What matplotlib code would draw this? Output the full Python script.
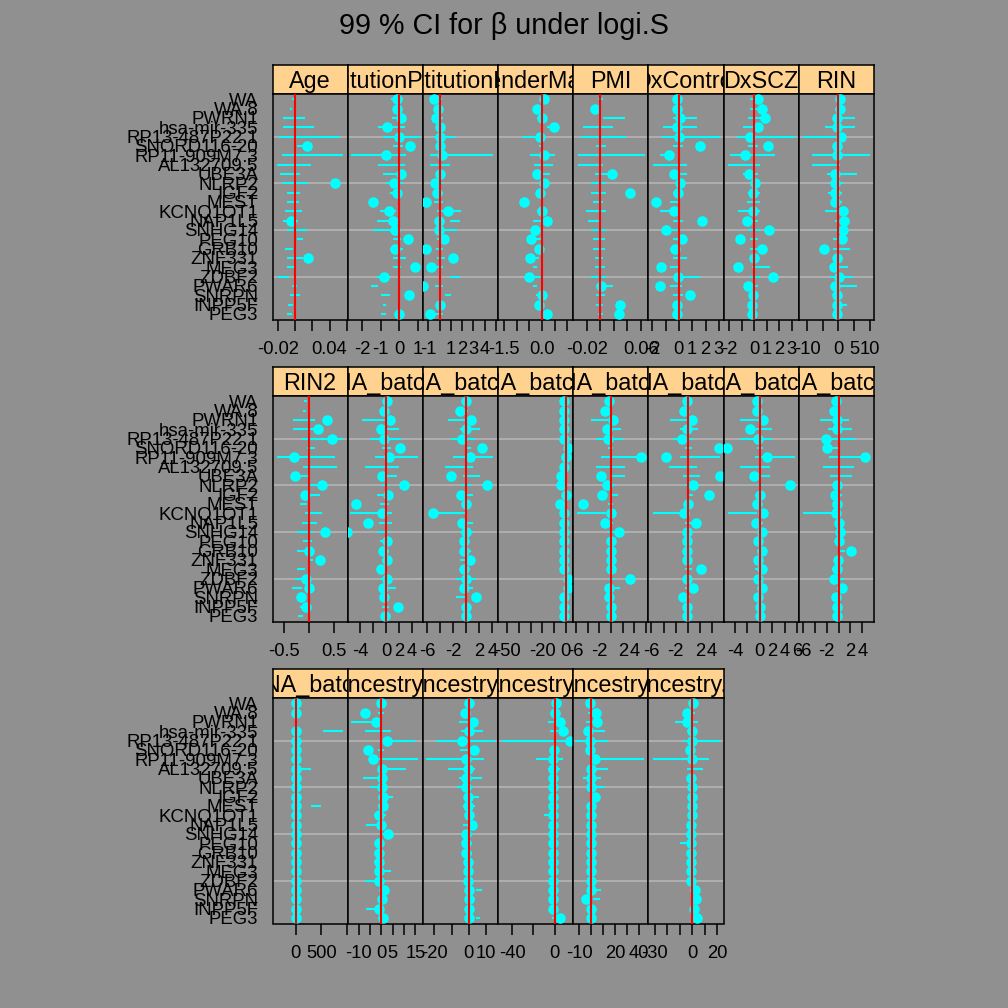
import numpy as np
import matplotlib
matplotlib.use('Agg')
import matplotlib.pyplot as plt

plt.rcParams['font.family'] = ['Liberation Sans', 'DejaVu Sans']

N = np.nan

# genes, top to bottom
genes = ['WA', 'WA.8', 'PWRN1', 'hsa-mir-335', 'RP13-487P22.1', 'SNORD116-20',
         'RP11-909M7.3', 'AL132709.5', 'UBE3A', 'NLRP2', 'IGF2', 'MEST',
         'KCNQ1OT1', 'NAP1L5', 'SNHG14', 'PEG10', 'GRB10', 'ZNF331', 'MEG3',
         'ZDBF2', 'PWAR6', 'SNRPN', 'INPP5F', 'PEG3']

# ---- row 1 ----
age_est = [N, N, N, N, N, 0.0135, N, N, N, 0.046, N, N, N, -0.005, N, N, N, 0.0146, N, N, N, N, N, N]
age_lo = [-0.004, -0.006, -0.014, -0.014, -0.019, 0.002, -0.015, -0.021, -0.017, -0.015, -0.0096, -0.0096,
          -0.0115, -0.014, -0.0096, 0.002, -0.0115, -0.0096, -0.0096, -0.02, -0.004, -0.006, -0.008, -0.0096]
age_hi = [-0.001, -0.003, 0.0115, 0.022, 0.052, 0.010, 0.056, 0.019, 0.006, 0.015, 0.0058, 0.005,
          0.0077, 0.004, 0.0135, 0.0096, -0.002, 0.0096, -0.001, -0.0065, 0.002, 0.006, -0.002, -0.003]

penn_est = [-0.12, -0.12, 0.1, -0.66, 0.0, 0.59, -0.73, N, 0.1, -0.27, -0.1, -1.41,
            -0.57, -0.36, -0.21, 0.46, -0.21, N, 0.86, -0.82, N, 0.55, N, 0.0]
penn_lo = [-0.45, -0.3, -0.4, -1.14, -0.88, -0.34, -2.57, -1.14, -0.87, -0.7, -0.5, -1.6,
           -1.05, -1.2, -1.4, -0.34, -0.5, -0.34, -0.34, -1.2, -1.5, -0.96, -0.87, -1.0]
penn_hi = [0.2, 0.1, 0.3, 0.29, 1.09, 0.2, 0.38, 0.29, 0.37, 0.2, 0.1, -1.2,
           -0.16, -0.34, 0.02, 0.1, 0.2, 0.375, 0.1, -0.52, -1.14, -0.52, -0.7, -0.7]

pitt_est = [-0.5, -0.15, -0.3, 0.0, 0.0, 0.0, 0.2, N, 0.0, -0.45, -0.2, -1.19,
            0.74, -0.1, -0.1, 0.42, -1.19, 1.19, -0.74, N, -1.49, N, 0.0, -0.9]
pitt_lo = [-0.2, -0.1, -0.4, -0.3, -0.5, -0.2, -0.9, -0.9, -0.3, -0.4, -0.3, -0.5,
           -0.2, 0.9, -0.3, -0.2, -0.3, -0.2, -0.4, 0.9, -0.4, 0.45, -0.3, -0.4]
pitt_hi = [0.2, 0.2, 0.3, 0.4, 1.34, 0.3, 4.76, 0.9, 0.4, 0.3, 0.3, 0.3,
           1.93, 1.8, 1.5, 0.5, 0.3, 0.5, 0.3, 1.8, 0.3, 1.04, 0.3, 0.3]

male_est = [0.085, -0.21, 0.0, 0.47, -0.08, N, 0.1, N, -0.2, 0.1, -0.09, -0.72,
            0.0, 0.2, -0.26, -0.44, -0.1, -0.45, N, -0.49, N, 0.0, -0.1, 0.22]
male_lo = [-0.05, -0.25, -0.18, 0.22, -0.8, -0.11, -0.47, -0.31, -0.18, -0.11, -0.21, -0.7,
           -0.18, -0.37, -0.44, -0.31, -0.24, -0.31, -0.37, -0.31, -0.34, -0.24, -0.18, -0.05]
male_hi = [0.085, -0.15, 0.15, 0.41, 0.15, 0.02, 0.51, 0.45, 0.31, 0.085, -0.05, -0.5,
           0.085, -0.05, -0.11, -0.05, -0.05, -0.11, -0.21, -0.05, -0.18, -0.05, -0.05, 0.12]

pmi_est = [N, -0.0084, N, N, N, N, N, N, 0.0168, N, 0.044, N,
           N, N, N, N, N, N, N, N, 0.001, N, 0.029, 0.027]
pmi_lo = [-0.0035, -0.013, 0.004, -0.026, -0.028, -0.006, -0.033, -0.033, -0.0084, -0.013, -0.013, -0.011,
          -0.021, -0.018, -0.013, -0.011, -0.011, -0.0084, -0.0084, -0.013, -0.006, -0.006, -0.006, -0.0035]
pmi_hi = [0.004, -0.0035, 0.036, 0.019, 0.0385, 0.009, 0.066, 0.004, 0.014, 0.009, 0.009, 0.004,
          0.009, -0.001, 0.009, 0.0064, 0.0064, 0.004, 0.0064, 0.009, 0.019, 0.0064, 0.004, 0.004]

ctrl_est = [-0.12, -0.12, 0.12, -0.12, 0.0, 1.6, -0.75, N, -0.38, 0.08, -0.05, -1.7,
            -0.35, 1.7, -0.93, 0.2, -0.3, N, -1.35, -0.05, -1.38, 0.83, -0.12, -0.12]
ctrl_lo = [-0.3, -0.3, -0.43, -1.18, -1.3, -0.43, -1.43, -1.93, -0.68, -0.3, -0.43, -0.68,
           -1.43, -0.43, -0.68, -0.43, -0.68, -0.43, -0.68, -0.43, -0.68, -0.43, -0.3, -0.3]
ctrl_hi = [0.2, 0.2, 1.33, 1.33, 3.08, 0.33, -0.43, 0.58, 0.58, 0.45, 0.33, 0.08,
           0.08, 0.33, 0.08, 0.33, 0.08, 0.58, 0.08, 1.58, 0.2, 0.33, 0.2, 0.2]

scz_est = [0.32, 0.59, 0.9, 0.32, -0.35, 1.07, -0.75, N, -0.4, 0.05, -0.08, N,
           -0.08, -0.61, 1.2, -1.1, 0.59, -0.03, -1.28, 1.47, -0.5, -0.08, -0.16, -0.16]
scz_lo = [-0.35, -0.35, -0.48, -0.88, -1.41, -0.48, -1.95, -2.08, -0.88, -0.35, -0.48, -0.61,
          -1.28, -0.48, -0.48, -0.35, -0.35, -0.35, -0.21, -0.35, -0.48, -0.35, -0.35, -0.35]
scz_hi = [0.45, 0.45, 1.25, 0.72, 3.25, 0.32, 1.65, 0.45, 0.32, 0.45, 0.45, 0.45,
          0.45, 0.32, 0.45, 0.32, 0.45, 0.45, 1.25, 0.45, 0.32, 0.32, 0.19, 0.19]

rin_est = [0.5, 0.5, -0.5, -0.5, 0.75, -0.5, -0.5, N, -1.0, -1.2, -1.2, -1.0,
           1.6, 1.8, 1.6, 1.1, -4.6, -0.3, -1.4, 0.3, -1.0, -0.5, -0.3, -0.3]
rin_lo = [-1.07, -1.07, -1.6, -4.27, -11.2, -1.6, -8.55, -8.55, -3.74, -2.14, -3.2, -2.14,
          -4.27, -1.07, -1.07, -1.6, -1.6, -1.6, -2.67, -2.67, -2.14, -1.6, -1.6, -1.6]
rin_hi = [1.6, 1.6, 5.34, 5.34, 1.6, 1.07, 10.15, 0.53, 5.88, 1.6, 1.07, 1.07,
          1.6, 2.67, 2.14, 2.14, 3.74, 1.6, 3.2, 4.8, 5.88, 1.07, 2.67, 1.07]

# ---- row 2 ----
rin2_est = [N, N, 0.36, 0.17, 0.46, N, -0.31, N, -0.29, 0.25, -0.09, N,
            N, N, 0.31, N, 0.0, 0.21, N, -0.07, 0.0, -0.17, -0.07, N]
rin2_lo = [-0.11, -0.12, -0.32, -0.32, -0.15, -0.05, -0.65, -0.12, -0.32, -0.05, -0.12, -0.19,
           -0.09, -0.15, -0.25, -0.12, -0.25, -0.02, -0.25, -0.29, -0.35, -0.25, -0.19, -0.22]
rin2_hi = [-0.05, -0.07, 0.11, 0.18, 0.68, 0.11, 0.51, 0.55, -0.02, 0.15, 0.21, -0.05,
           0.25, 0.15, 0.08, 0.05, -0.02, 0.08, -0.09, 0.01, -0.15, -0.09, -0.05, -0.12]

bB_est = [0.2, -0.37, 0.58, -0.73, -0.37, 2.1, 0.42, N, -0.63, 2.68, 0.3, -4.7,
          -0.63, -2.83, -6.1, 0.2, -0.47, 0.2, -0.73, 0.2, -0.47, -0.3, 1.84, -0.2]
bB_lo = [-0.37, -0.63, -3.78, -1.15, -2.47, -0.63, -1.68, -3.25, -0.1, -0.63, -1.42, -0.89,
         -5.6, -1.15, -1.42, -0.89, -0.89, -0.63, -1.15, -0.89, -0.63, -0.89, -0.63, -0.63]
bB_hi = [0.42, 0.16, -0.1, 2.0, 2.26, 0.68, 4.88, 2.0, 1.73, 0.42, 0.42, 0.42,
         0.94, 0.94, 0.42, 0.42, 0.42, 0.68, 0.16, 0.42, 1.47, 0.42, 0.42, 0.16]

bC_est = [0.0, -0.92, 0.77, -0.1, -0.6, 2.46, 0.6, N, -2.3, 3.18, -0.77, 0.0,
          -5.2, -0.72, 0.0, -0.41, -0.41, 0.6, -0.41, 0.0, -0.41, 1.54, 0.0, 0.0]
bC_lo = [-0.51, -1.03, -2.8, -1.03, -2.3, -0.25, -2.05, -3.33, -0.51, -0.77, -1.03, -0.51,
         -5.0, 0.26, -1.03, -0.77, -1.03, -1.03, -0.77, -1.54, -0.51, -1.54, -0.51, -0.51]
bC_hi = [0.51, 0.26, 1.54, 2.05, 1.28, 0.77, 4.1, 1.03, 2.05, 0.77, 1.03, 0.77,
         0.0, 1.03, 1.03, 0.51, 0.77, 0.77, 0.51, 1.54, 1.03, 0.0, 0.51, 0.51]

bD_est = [-1.7, -1.7, -1.7, -1.7, -1.7, 2.0, 0.0, -1.7, -3.7, -3.7, 0.6, -4.6,
          -1.7, -1.7, -1.7, -1.7, -1.7, -1.7, -1.7, 2.0, 2.0, -1.7, -1.7, -1.7]
bD_lo = [-3, -3, -3, -3, -3, -1, -4, -4, -5, -5, -2, -6, -5, -3, -3, -3, -3, -3, -3, -1, -1, -3, -3, -3]
bD_hi = [1, 1, 1, 1, 1, 3, 2, 1, -1, 0, 2, -3, 1, 1, 1, 1, 1, 1, 1, 3, 3, 1, 1, 1]

bE_est = [-0.4, -1.08, 0.34, -0.63, -0.5, N, 5.07, N, -1.65, -0.68, -1.54, -4.8,
          0.0, -0.97, 1.31, 0.0, 0.0, 0.0, 0.0, 3.19, -0.34, -0.34, 0.0, 0.0]
bE_lo = [-0.51, -1.37, -3.36, -0.8, -2.5, -0.51, -1.65, -2.62, -0.23, -0.51, -0.23, -0.51,
         -5.8, -0.8, -0.51, -0.51, -0.51, -0.51, -0.51, -0.51, 0.34, -0.51, -0.51, -0.51]
bE_hi = [0.34, -0.23, 0.91, 1.77, 2.05, 0.34, 4.9, 2.34, 2.34, 0.63, 1.2, 0.34,
         -0.8, 0.34, 0.63, 0.63, 0.63, 0.34, 0.63, 0.63, 1.48, 0.34, 0.34, 0.34]

bF_est = [-0.17, -0.55, 0.78, -0.05, -0.9, 5.1, -3.67, N, 5.4, 0.94, 3.6, 0.1,
          -0.67, 1.39, -0.05, -0.17, -0.17, -0.17, 2.28, -0.17, 0.94, -0.72, -0.17, -0.17]
bF_lo = [-0.44, -1.0, -2.94, -1.28, -2.39, -0.44, -1.28, -3.06, -0.72, -0.44, -0.17, -0.44,
         -5.72, -0.44, -0.44, -0.44, -0.44, -0.44, -0.44, -0.44, -0.44, -0.72, -0.44, -0.44]
bF_hi = [0.39, 0.11, 1.22, 1.78, 0.94, 0.67, 5.39, 1.5, 2.06, 0.67, 0.94, 0.67,
         -0.17, 0.94, 0.67, 0.39, 0.39, 0.67, 0.67, 0.39, 0.67, 0.39, 0.39, 0.39]

bG_est = [-0.53, -0.53, 0.43, -1.5, -0.27, -5.2, 1.17, N, -0.96, 4.8, 0.0, -0.43,
          0.43, -0.64, 0.27, -0.27, 0.27, -0.27, 0.27, -0.27, 0.27, -0.27, 0.0, 0.0]
bG_lo = [-0.53, -0.8, -3.2, -1.07, -3.2, -0.53, -0.8, -3.2, 0.0, -0.53, -0.8, -0.8,
         -5.07, -0.8, -0.53, -0.53, -0.53, -0.53, -0.8, -0.53, -0.53, -0.53, -0.53, -0.53]
bG_hi = [0.27, 0.27, 0.8, 1.87, 1.87, 0.53, 5.6, 1.6, 1.6, 0.53, 0.8, 0.53,
         -0.53, 0.53, 0.53, 0.53, 0.53, 0.53, 0.27, 0.53, 0.53, 0.53, 0.53, 0.53]

bH_est = [-0.4, -0.85, -0.3, -0.3, -2.1, -2.0, 4.39, N, N, -0.3, -0.57, -0.3,
          -0.4, 0.0, 0.28, 0.0, 2.17, -0.17, -0.3, -0.85, 0.57, -0.4, -0.3, -0.3]
bH_lo = [-0.57, -1.14, -3.13, -1.71, -2.0, -1.71, -1.54, -2.56, -1.42, -0.85, -1.14, -0.85,
         -5.98, -0.57, -0.57, -0.57, 0.0, -0.85, -1.14, -1.14, 0.0, -0.85, -0.85, -0.85]
bH_hi = [0.28, 0.0, 1.71, 2.28, 2.85, 0.28, 4.27, 2.56, 2.28, 0.57, 0.57, 0.57,
         -0.57, 0.85, 1.14, 0.57, 1.14, 0.57, 0.28, 0.85, 1.14, 0.28, 0.57, 0.57]

# ---- row 3 ----
bI_est = [0, 0, N, 0, 0, 0, 0, 0, 0, 0, 0, 0, 0, 0, 0, 0, 0, 0, 0, 0, 0, 0, 0, 0]
bI_lo = [-30, -30, N, 525, -30, -30, -30, 77, -30, -30, -30, 300,
         -30, -30, -30, -30, -30, -30, -30, -30, -30, -30, -30, -30]
bI_hi = [30, 30, N, 910, 30, 30, 30, 300, 30, 30, 30, 490,
         30, 30, 30, 30, 30, 30, 30, 30, 30, 30, 30, 30]

an1_est = [-0.4, -7.2, -2.4, N, 2.4, -6.0, -3.8, 0.3, 0.3, 0.3, 0.6, 0.6,
           -0.9, -0.4, 2.9, -0.9, -0.9, -0.9, -0.9, -0.9, 1.3, 0.3, -0.9, 0.6]
an1_lo = [-0.9, -1.6, -13.4, -7.5, 0.6, -1.6, -0.9, 1.3, -8.3, -5.3, -0.9, -1.6,
          -3.1, -6.8, -0.9, -2.4, -2.4, -3.1, -2.4, -7.5, 0.6, -1.6, -6.8, -1.6]
an1_hi = [1.3, 1.3, -0.9, 4.3, 14.6, 1.3, 16.1, 10.9, 2.1, 2.1, 5.0, 2.1,
          2.1, 2.1, 2.1, 1.3, 1.3, 0.6, 4.3, 2.1, 3.2, 1.3, 0.6, 1.3]

an2_est = [0.2, -2.3, 2.5, 0.2, -3.7, 2.9, -1.7, -0.2, -1.4, -1.4, -0.4, -0.4,
           0.2, 1.9, -1.4, -1.7, -1.4, -0.4, -0.4, -0.4, 0.2, 0.2, 0.2, 0.2]
an2_lo = [-1.4, -3.3, -5.6, -4.3, -18.8, -4.8, -24.6, -12.0, -5.6, -6.8, -1.4, -3.3,
          -1.7, -3.3, -2.3, -3.3, -2.3, -1.7, -2.3, -1.7, 4.1, 0.2, -1.7, 4.1]
an2_hi = [1.6, 0.6, 2.5, 8.3, 15.1, 0.6, 8.7, 3.5, 7.9, 2.5, 6.0, 3.5,
          2.5, 4.8, 2.5, 1.6, 1.6, 2.5, 2.5, 2.5, 7.9, 3.5, 2.1, 6.8]

an3_est = [0.9, 0.0, 4.7, 7.9, 14.8, -0.9, -1.6, -1.6, -1.6, -1.6, -1.6, -1.6,
           -1.6, -1.6, -1.6, -1.6, -1.6, -1.6, -1.6, -1.6, -1.6, -1.6, -1.6, 5.3]
an3_lo = [-1.6, -2.2, -6.3, -4.7, -49.4, -3.1, -17.9, -6.3, -3.1, -3.1, -3.1, -3.1,
          -10.4, -3.1, -3.1, -3.1, -3.1, -3.1, -3.1, -3.1, -3.1, -3.1, -3.1, -2.2]
an3_hi = [2.2, 1.6, 1.6, 3.1, 17.3, 1.6, 7.9, 4.7, 1.6, 1.6, 1.6, 1.6,
          0.0, 1.6, 1.6, 1.6, 1.6, 1.6, 1.6, 1.6, 1.6, 1.6, 1.6, 1.6]

an4_est = [-0.8, 4.2, 5.0, -2.8, -1.4, -1.4, 2.8, 0.0, 0.0, 0.0, 2.8, 0.0,
           0.0, 0.0, 0.0, 0.0, 0.0, 0.0, 0.0, 0.0, 0.0, -4.8, 0.0, 0.0]
an4_lo = [-2.8, -2.8, -4.2, 0.0, -12.6, -2.8, -1.4, -2.8, -7.0, 0.0, -1.4, -2.8,
          -2.8, -2.8, -2.8, -2.8, -2.8, -2.8, -2.8, -2.8, -1.4, 1.4, -2.8, -2.8]
an4_hi = [1.4, 2.8, 2.8, 11.2, 14.0, 2.8, 44.0, 14.0, 8.4, 11.2, 4.2, 2.8,
          2.8, 2.8, 2.8, 2.8, 2.8, 2.8, 2.8, 2.8, 8.4, 7.0, 2.8, 2.8]

an5_est = [0.3, -4.5, -4.0, -0.5, -0.5, -1.9, -0.5, N, -1.2, -0.5, -0.5, -0.5,
           -0.5, -1.2, -1.2, -1.2, -1.2, -1.2, -1.2, -1.2, 2.4, 2.9, 1.6, 3.5]
an5_lo = [-1.9, -5.9, -13.9, -4.5, -7.2, -3.2, -31.2, -4.5, -3.2, -3.2, -3.2, -3.2,
          -3.2, -4.5, -3.2, -9.9, -3.2, -3.2, -3.2, -3.2, -0.5, -0.5, -1.9, -0.5]
an5_hi = [2.1, 2.1, 4.8, 3.5, 22.1, 2.1, 13.6, 8.3, 2.1, 2.1, 3.5, 2.1,
          2.1, 2.1, 2.1, -0.5, 2.1, 2.1, 2.1, 2.1, 4.8, 4.8, 3.5, 4.8]

# panel names and the arrays they use
panels = [
    ('Age', age_est, age_lo, age_hi),
    ('InstitutionPenn', penn_est, penn_lo, penn_hi),
    ('InstitutionPitt', pitt_est, pitt_lo, pitt_hi),
    ('GenderMale', male_est, male_lo, male_hi),
    ('PMI', pmi_est, pmi_lo, pmi_hi),
    ('DxControl', ctrl_est, ctrl_lo, ctrl_hi),
    ('DxSCZ', scz_est, scz_lo, scz_hi),
    ('RIN', rin_est, rin_lo, rin_hi),
    ('RIN2', rin2_est, rin2_lo, rin2_hi),
    ('RNA_batchB', bB_est, bB_lo, bB_hi),
    ('RNA_batchC', bC_est, bC_lo, bC_hi),
    ('RNA_batchD', bD_est, bD_lo, bD_hi),
    ('RNA_batchE', bE_est, bE_lo, bE_hi),
    ('RNA_batchF', bF_est, bF_lo, bF_hi),
    ('RNA_batchG', bG_est, bG_lo, bG_hi),
    ('RNA_batchH', bH_est, bH_lo, bH_hi),
    ('RNA_batchI', bI_est, bI_lo, bI_hi),
    ('Ancestry1', an1_est, an1_lo, an1_hi),
    ('Ancestry2', an2_est, an2_lo, an2_hi),
    ('Ancestry3', an3_est, an3_lo, an3_hi),
    ('Ancestry4', an4_est, an4_lo, an4_hi),
    ('Ancestry.5', an5_est, an5_lo, an5_hi),
]

# free x scales (limits, ticks and the labels lattice kept after its overlap check)
x_limits = [(-0.026, 0.061), (-2.77, 1.27), (-1.5, 5.2), (-1.73, 1.24), (-0.0399, 0.0711),
            (-2.28, 3.36), (-2.45, 3.58), (-12.6, 11.4),
            (-0.739, 0.775), (-5.95, 5.67), (-6.68, 4.86), (-57.9, 6.6), (-6.43, 6.39),
            (-6.5, 5.95), (-5.8, 6.24), (-6.72, 5.98),
            (-446, 1006), (-14.95, 18.3), (-26.6, 17), (-53.5, 17.6), (-15.1, 47.9), (-34.9, 25.1)]
x_ticks = [[-0.02, 0, 0.02, 0.04, 0.06], [-2, -1, 0, 1], [-1, 0, 1, 2, 3, 4, 5],
           [-1.5, -1, -0.5, 0, 0.5, 1], [-0.02, 0, 0.02, 0.04, 0.06], [-2, -1, 0, 1, 2, 3],
           [-2, -1, 0, 1, 2, 3], [-10, -5, 0, 5, 10],
           [-0.5, 0, 0.5], [-4, -2, 0, 2, 4], [-6, -4, -2, 0, 2, 4], [-50, -40, -30, -20, -10, 0],
           [-6, -4, -2, 0, 2, 4, 6], [-6, -4, -2, 0, 2, 4], [-4, -2, 0, 2, 4, 6], [-6, -4, -2, 0, 2, 4],
           [0, 500, 1000], [-10, -5, 0, 5, 10, 15], [-20, -10, 0, 10], [-40, -20, 0],
           [-10, 0, 10, 20, 30, 40], [-30, -20, -10, 0, 10, 20]]
x_ticklabels = [['-0.02', '', '', '0.04', ''], ['-2', '-1', '0', '1'], ['-1', '', '1', '2', '3', '4', ''],
                ['-1.5', '', '', '0.0', '', ''], ['-0.02', '', '', '', '0.06'], ['-2', '', '0', '1', '2', '3'],
                ['-2', '', '0', '1', '2', '3'], ['-10', '', '0', '5', '10'],
                ['-0.5', '', '0.5'], ['-4', '', '0', '2', '4'], ['-6', '', '-2', '', '2', '4'],
                ['-50', '', '', '-20', '', '0'], ['-6', '', '-2', '', '2', '4', ''],
                ['-6', '', '-2', '', '2', '4'], ['-4', '', '0', '2', '4', '6'], ['-6', '', '-2', '', '2', '4'],
                ['0', '500', ''], ['-10', '', '0', '5', '', '15'], ['-20', '', '0', '10'], ['-40', '', '0'],
                ['-10', '', '', '20', '', '40'], ['-30', '', '', '0', '', '20']]

BG = '#909090'
STRIP = '#FFD28F'
CYAN = '#00FFFF'
PX = 1008.0


def fig_rect(left, top, width, height):
    """ピクセル(左上原点)から figure 座標へ"""
    return [left / PX, 1 - (top + height) / PX, width / PX, height / PX]


def draw_panel(fig, idx):
    name, est, lo, hi = panels[idx]
    row, col = divmod(idx, 8)
    pw, sh, ph = 75.19, 28.7, 225.8
    left = 272.5 + col * pw
    top = 65 + row * 302

    # strip
    ax_s = fig.add_axes(fig_rect(left, top, pw, sh))
    ax_s.set_facecolor(STRIP)
    ax_s.set_xticks([])
    ax_s.set_yticks([])
    for sp in ax_s.spines.values():
        sp.set_linewidth(1.1)
    ax_s.text(0.5, 6 / sh, name, transform=ax_s.transAxes, ha='center', va='baseline',
              fontsize=16.8, clip_on=True)

    # panel
    ax = fig.add_axes(fig_rect(left, top + sh, pw, ph))
    ax.set_facecolor(BG)
    y = np.arange(len(genes), 0, -1)
    est = np.array(est, dtype=float)
    lo = np.array(lo, dtype=float)
    hi = np.array(hi, dtype=float)

    for h in [5, 10, 15, 20]:
        ax.axhline(h, color='#B8B8B8', lw=1.1, zorder=1)
    ok = ~np.isnan(lo)
    ax.hlines(y[ok], lo[ok], hi[ok], color=CYAN, lw=1.5, capstyle='butt', zorder=2)
    ok = ~np.isnan(est)
    ax.plot(est[ok], y[ok], 'o', ms=7.6, color=CYAN, mec='none', zorder=3)
    ax.axvline(0, color='red', lw=1.5, zorder=4)

    ax.set_xlim(x_limits[idx])
    ax.set_ylim(0.4, len(genes) + 0.6)
    ax.set_xticks(x_ticks[idx])
    ax.set_xticklabels(x_ticklabels[idx])
    ax.tick_params(axis='x', direction='out', length=7.9, width=1.1, pad=7.5, labelsize=13.2)
    for sp in ax.spines.values():
        sp.set_linewidth(1.1)
    if col == 0:
        ax.set_yticks(y)
        ax.set_yticklabels(genes)
        ax.tick_params(axis='y', length=0, pad=10.4, labelsize=13.4)
    else:
        ax.set_yticks([])


def main():
    fig = plt.figure(figsize=(PX / 100, PX / 100), dpi=100, facecolor=BG)
    for i in range(len(panels)):
        draw_panel(fig, i)
    fig.text(504 / PX, 1 - 34.3 / PX, '99 % CI for \u03b2 under logi.S', ha='center',
             va='baseline', fontsize=20.7)
    fig.savefig('out.png', dpi=100, facecolor=BG)


if __name__ == '__main__':
    main()
